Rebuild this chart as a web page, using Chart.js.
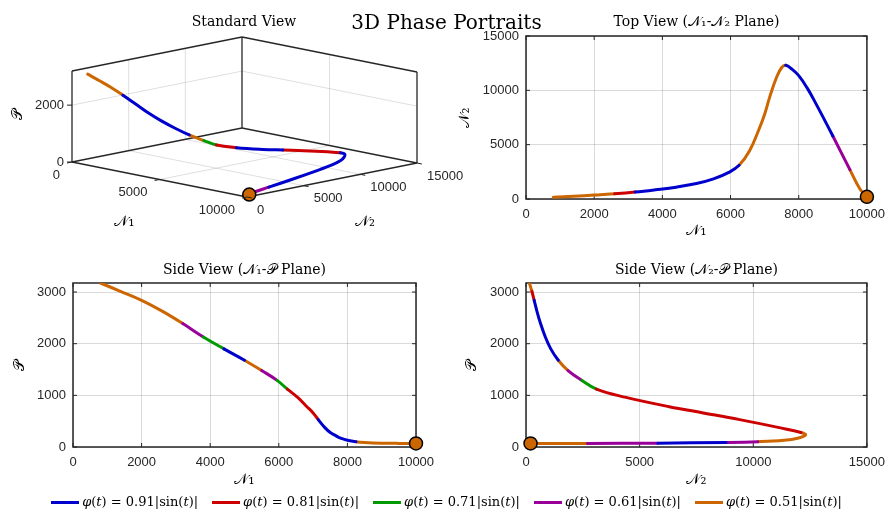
<!DOCTYPE html>
<html>
<head>
<meta charset="utf-8">
<title>3D Phase Portraits</title>
<script src="https://cdn.jsdelivr.net/npm/chart.js@4.4.0/dist/chart.umd.min.js"></script>
<style>
  body { margin: 0; background: #fff; }
  #fig { position: relative; width: 893px; height: 514px; overflow: hidden; font-family: "DejaVu Serif", serif; }
  #fig canvas { position: absolute; }
  #suptitle { position: absolute; left: 0; top: 10px; width: 893px; text-align: center; font-size: 20px; line-height: 24px; color: #000; }
  #legend { position: absolute; left: 0; top: 493px; width: 893px; display: flex; justify-content: center; font-size: 13px; line-height: 18px; color: #000; }
  #legend .item { display: flex; align-items: center; margin: 0 7px; white-space: nowrap; }
  #legend .swatch { display: inline-block; width: 28px; height: 3px; margin-right: 3px; }
</style>
</head>
<body>
<div id="fig">
  <canvas id="view3d" width="488" height="240" style="left:0;top:0"></canvas>
  <canvas id="viewTop" width="453" height="245" style="left:440px;top:0"></canvas>
  <canvas id="viewN1P" width="450" height="250" style="left:0;top:250px"></canvas>
  <canvas id="viewN2P" width="453" height="250" style="left:440px;top:250px"></canvas>
  <div id="suptitle">3D Phase Portraits</div>
  <div id="legend"></div>
</div>
<script>
// trajectory samples (N1, N2, P), from the far end of the curve to the marked point
const n1Path = [800, 1400, 2000, 2600, 3200, 3800, 4400, 5000, 5500, 5950, 6250, 6550, 6820, 7000, 7150, 7350, 7500, 7620, 7800, 8000, 8250, 8500, 9000, 9500, 9800, 10000];
const n2Path = [150, 260, 360, 480, 640, 850, 1090, 1420, 1850, 2450, 3100, 4400, 6300, 7800, 9400, 11200, 12100, 12300, 11950, 11350, 10200, 8800, 5800, 2700, 900, 200];
const pPath = [3175, 3010, 2840, 2630, 2390, 2130, 1900, 1680, 1480, 1290, 1120, 960, 780, 660, 530, 370, 280, 235, 170, 130, 102, 88, 75, 70, 70, 70];

// marked point
const markN1 = [10000];
const markN2 = [200];
const markP = [70];

// the five runs, phi(t) = a|sin(t)|
const seriesCoef = ['0.91', '0.81', '0.71', '0.61', '0.51'];
const seriesColors = ['#0000cc', '#cc0000', '#009900', '#990099', '#cc6600'];

// which run ends up on top along each path segment, per view
const runs3d = [4, 4, 4, 0, 0, 0, 0, 0, 4, 2, 1, 0, 0, 1, 1, 1, 0, 0, 0, 0, 0, 0, 0, 3, 4];
const runsTop = [4, 4, 4, 1, 0, 0, 0, 0, 0, 0, 4, 4, 4, 4, 4, 4, 4, 0, 0, 0, 0, 0, 3, 4, 4];
const runsN1P = [4, 4, 4, 4, 3, 2, 0, 4, 3, 2, 1, 1, 1, 1, 0, 0, 0, 0, 0, 0, 4, 4, 4, 4, 4];
const runsN2P = [4, 1, 0, 0, 0, 0, 0, 4, 3, 2, 1, 1, 1, 1, 1, 1, 4, 4, 4, 4, 3, 0, 3, 4, 4];

// tick values
const n1Ticks = [0, 2000, 4000, 6000, 8000, 10000];
const n2TicksTop = [0, 5000, 10000, 15000];
const pTicks = [0, 1000, 2000, 3000];
const n2TicksSide = [0, 5000, 10000, 15000];
const n1Ticks3d = [0, 5000, 10000];
const n2Ticks3d = [0, 5000, 10000, 15000];
const pTicks3d = [0, 2000];

const N1 = '\u{1D4A9}\u2081', N2 = '\u{1D4A9}\u2082', P = '\u{1D4AB}';
const tickFont = { family: '"Liberation Sans", Arial, sans-serif', size: 13 };
const mathFont = { family: '"DejaVu Serif", serif', size: 15 };
const tickColor = '#262626';
const gridColor = 'rgba(38,38,38,0.17)';

// panel title centred over the plot area
const panelTitle = {
  id: 'panelTitle',
  afterDraw(chart, args, opts) {
    const { ctx, chartArea } = chart;
    ctx.save();
    ctx.font = '14px "DejaVu Serif", serif';
    ctx.fillStyle = '#000';
    ctx.textAlign = 'center';
    ctx.textBaseline = 'middle';
    ctx.fillText(opts.text, (chartArea.left + chartArea.right) / 2, opts.y);
    ctx.restore();
  }
};

// closed box with inward ticks on all four sides
const axesBox = {
  id: 'axesBox',
  beforeDatasetsDraw(chart) {
    const { ctx, chartArea: a, scales: { x, y } } = chart;
    ctx.save();
    ctx.strokeStyle = '#262626';
    ctx.lineWidth = 1.5;
    ctx.strokeRect(a.left, a.top, a.right - a.left, a.bottom - a.top);
    ctx.lineWidth = 1;
    ctx.beginPath();
    x.ticks.forEach(t => {
      const px = x.getPixelForValue(t.value);
      ctx.moveTo(px, a.bottom); ctx.lineTo(px, a.bottom - 4);
      ctx.moveTo(px, a.top); ctx.lineTo(px, a.top + 4);
    });
    y.ticks.forEach(t => {
      const py = y.getPixelForValue(t.value);
      ctx.moveTo(a.left, py); ctx.lineTo(a.left + 4, py);
      ctx.moveTo(a.right, py); ctx.lineTo(a.right - 4, py);
    });
    ctx.stroke();
    ctx.restore();
  }
};

function curveDatasets(points, runs) {
  return seriesCoef.map((coef, k) => ({
    label: coef,
    data: points.map(p => ({ ...p })),
    showLine: true,
    pointRadius: 0,
    borderWidth: 3,
    borderColor: seriesColors[k],
    borderCapStyle: 'round',
    borderJoinStyle: 'round',
    tension: 0.4,
    order: 0,
    segment: { borderColor: c => runs[c.p0DataIndex] === k ? seriesColors[k] : 'transparent' }
  }));
}

function markerDataset(points) {
  return {
    data: points,
    pointRadius: 6.5,
    pointBackgroundColor: '#cc6600',
    pointBorderColor: '#000',
    pointBorderWidth: 1.5,
    showLine: false,
    clip: false,
    order: -1
  };
}

function linearAxis(ticks, max, size, title, titlePad, isX) {
  return {
    type: 'linear',
    min: 0,
    max: max,
    afterFit: s => { if (isX) s.height = size; else s.width = size; },
    afterBuildTicks: s => { s.ticks = ticks.map(v => ({ value: v })); },
    ticks: { font: tickFont, color: tickColor, padding: isX ? 8 : 7, maxRotation: 0, autoSkip: false, callback: v => String(v) },
    grid: { color: gridColor, lineWidth: 1, drawTicks: false },
    border: { display: false },
    title: { display: true, text: title, font: mathFont, color: '#000', padding: isX ? { bottom: titlePad } : { top: titlePad } }
  };
}

function planeChart(id, cfg) {
  const pts = cfg.xs.map((v, i) => ({ x: v, y: cfg.ys[i] }));
  const mark = cfg.mx.map((v, i) => ({ x: v, y: cfg.my[i] }));
  return new Chart(document.getElementById(id), {
    type: 'scatter',
    data: { datasets: [markerDataset(mark), ...curveDatasets(pts, cfg.runs)] },
    options: {
      responsive: false,
      animation: false,
      events: [],
      layout: { autoPadding: false, padding: { top: cfg.top, right: cfg.right, left: 0, bottom: 0 } },
      plugins: {
        legend: { display: false },
        tooltip: { enabled: false },
        panelTitle: { text: cfg.title, y: cfg.titleY }
      },
      scales: {
        x: linearAxis(cfg.xTicks, cfg.xMax, cfg.xAxisH, cfg.xTitle, cfg.xTitlePad, true),
        y: linearAxis(cfg.yTicks, cfg.yMax, cfg.yAxisW, cfg.yTitle, cfg.yTitlePad, false)
      }
    },
    plugins: [axesBox, panelTitle]
  });
}

planeChart('viewTop', {
  xs: n1Path, ys: n2Path, mx: markN1, my: markN2, runs: runsTop,
  title: 'Top View (' + N1 + '-' + N2 + ' Plane)', titleY: 22.5,
  top: 36, right: 24, xAxisH: 46, yAxisW: 86,
  xTicks: n1Ticks, xMax: 10000, xTitle: N1, xTitlePad: 5,
  yTicks: n2TicksTop, yMax: 15000, yTitle: N2, yTitlePad: 16
});

planeChart('viewN1P', {
  xs: n1Path, ys: pPath, mx: markN1, my: markP, runs: runsN1P,
  title: 'Side View (' + N1 + '-' + P + ' Plane)', titleY: 20,
  top: 33, right: 34, xAxisH: 53, yAxisW: 73,
  xTicks: n1Ticks, xMax: 10000, xTitle: N1, xTitlePad: 11,
  yTicks: pTicks, yMax: 3175, yTitle: P, yTitlePad: 11
});

planeChart('viewN2P', {
  xs: n2Path, ys: pPath, mx: markN2, my: markP, runs: runsN2P,
  title: 'Side View (' + N2 + '-' + P + ' Plane)', titleY: 20,
  top: 33, right: 24, xAxisH: 53, yAxisW: 86,
  xTicks: n2TicksSide, xMax: 15000, xTitle: N2, xTitlePad: 11,
  yTicks: pTicks, yMax: 3175, yTitle: P, yTitlePad: 23
});

// ---- 3D standard view: orthographic projection onto the canvas plane ----
const n1Max = 10000, n2Max = 15000, pMax3d = 3200;
const axisVec = { n1: [175, 35], n2: [170, -34], p: 91 }; // screen span of each full axis
const origin3d = [72, 162];                                // screen position of (0,0,0)

function project(n1, n2, p) {
  const a = n1 / n1Max, b = n2 / n2Max, c = p / pMax3d;
  return { x: a * axisVec.n1[0] + b * axisVec.n2[0], y: -(a * axisVec.n1[1] + b * axisVec.n2[1]) + c * axisVec.p };
}

function lineSet(from, to, color, width) {
  return {
    data: [project(...from), project(...to)],
    showLine: true, pointRadius: 0, borderColor: color, borderWidth: width,
    clip: false, order: 10
  };
}

const gridLines3d = [];
n1Ticks3d.slice(1, -1).forEach(v => {
  gridLines3d.push([[v, 0, 0], [v, n2Max, 0]]);           // floor
  gridLines3d.push([[v, n2Max, 0], [v, n2Max, pMax3d]]);  // back wall N2 = max
});
n2Ticks3d.slice(1, -1).forEach(v => {
  gridLines3d.push([[0, v, 0], [n1Max, v, 0]]);           // floor
  gridLines3d.push([[0, v, 0], [0, v, pMax3d]]);          // back wall N1 = 0
});
pTicks3d.slice(1).forEach(v => {
  gridLines3d.push([[0, 0, v], [0, n2Max, v]]);
  gridLines3d.push([[0, n2Max, v], [n1Max, n2Max, v]]);
});

const boxEdges3d = [
  [[0, 0, 0], [n1Max, 0, 0]], [[n1Max, 0, 0], [n1Max, n2Max, 0]],
  [[0, 0, 0], [0, n2Max, 0]], [[0, n2Max, 0], [n1Max, n2Max, 0]],
  [[0, 0, 0], [0, 0, pMax3d]], [[0, n2Max, 0], [0, n2Max, pMax3d]], [[n1Max, n2Max, 0], [n1Max, n2Max, pMax3d]],
  [[0, 0, pMax3d], [0, n2Max, pMax3d]], [[0, n2Max, pMax3d], [n1Max, n2Max, pMax3d]]
];

// tick marks, tick labels and axis labels of the 3D box
const frame3d = {
  id: 'frame3d',
  afterDraw(chart) {
    const { ctx, scales: { x, y } } = chart;
    const px = (n1, n2, p) => { const q = project(n1, n2, p); return [x.getPixelForValue(q.x), y.getPixelForValue(q.y)]; };
    ctx.save();
    ctx.strokeStyle = '#262626';
    ctx.lineWidth = 1;
    ctx.beginPath();
    n1Ticks3d.forEach(v => { const [a, b] = px(v, 0, 0); ctx.moveTo(a, b); ctx.lineTo(a - 4.9, b + 1); });
    n2Ticks3d.forEach(v => { const [a, b] = px(n1Max, v, 0); ctx.moveTo(a, b); ctx.lineTo(a + 4.9, b + 1); });
    pTicks3d.forEach(v => { const [a, b] = px(0, 0, v); ctx.moveTo(a, b); ctx.lineTo(a - 5, b); });
    ctx.stroke();

    ctx.font = '13px "Liberation Sans", Arial, sans-serif';
    ctx.fillStyle = tickColor;
    ctx.textBaseline = 'middle';
    ctx.textAlign = 'right';
    pTicks3d.forEach(v => { const [a, b] = px(0, 0, v); ctx.fillText(String(v), a - 8, b); });
    n1Ticks3d.forEach(v => { const [a, b] = px(v, 0, 0); ctx.fillText(String(v), a - 12, b + 13); });
    ctx.textAlign = 'left';
    n2Ticks3d.forEach(v => { const [a, b] = px(n1Max, v, 0); ctx.fillText(String(v), a + 10, b + 13); });

    ctx.font = '15px "DejaVu Serif", serif';
    ctx.fillStyle = '#000';
    ctx.textAlign = 'center';
    let [a, b] = px(n1Max / 2, 0, 0);
    ctx.fillText(N1, a - 35, b + 43);
    [a, b] = px(n1Max, n2Max / 2, 0);
    ctx.fillText(N2, a + 33, b + 42);
    [a, b] = px(0, 0, pMax3d / 2);
    ctx.translate(a - 54, b - 2);
    ctx.rotate(-Math.PI / 2);
    ctx.fillText(P, 0, 0);
    ctx.restore();
  }
};

const path3d = n1Path.map((v, i) => project(v, n2Path[i], pPath[i]));
const mark3d = markN1.map((v, i) => project(v, markN2[i], markP[i]));

new Chart(document.getElementById('view3d'), {
  type: 'scatter',
  data: {
    datasets: [
      markerDataset(mark3d),
      ...curveDatasets(path3d, runs3d).map(d => ({ ...d, clip: false })),
      ...gridLines3d.map(([f, t]) => lineSet(f, t, 'rgba(38,38,38,0.15)', 1)),
      ...boxEdges3d.map(([f, t]) => lineSet(f, t, '#262626', 1.3))
    ]
  },
  options: {
    responsive: false,
    animation: false,
    events: [],
    layout: { autoPadding: false, padding: 0 },
    plugins: {
      legend: { display: false },
      tooltip: { enabled: false },
      panelTitle: { text: 'Standard View', y: 22.5 }
    },
    scales: {
      x: { type: 'linear', display: false, min: -origin3d[0], max: 488 - origin3d[0] },
      y: { type: 'linear', display: false, min: origin3d[1] - 240, max: origin3d[1] }
    }
  },
  plugins: [panelTitle, frame3d]
});

// legend row
const legendEl = document.getElementById('legend');
seriesCoef.forEach((coef, k) => {
  const item = document.createElement('span');
  item.className = 'item';
  item.innerHTML = '<span class="swatch" style="background:' + seriesColors[k] + '"></span>' +
    '<span><i>\u03C6</i>(<i>t</i>) = ' + coef + '|sin(<i>t</i>)|</span>';
  legendEl.appendChild(item);
});
</script>
</body>
</html>
